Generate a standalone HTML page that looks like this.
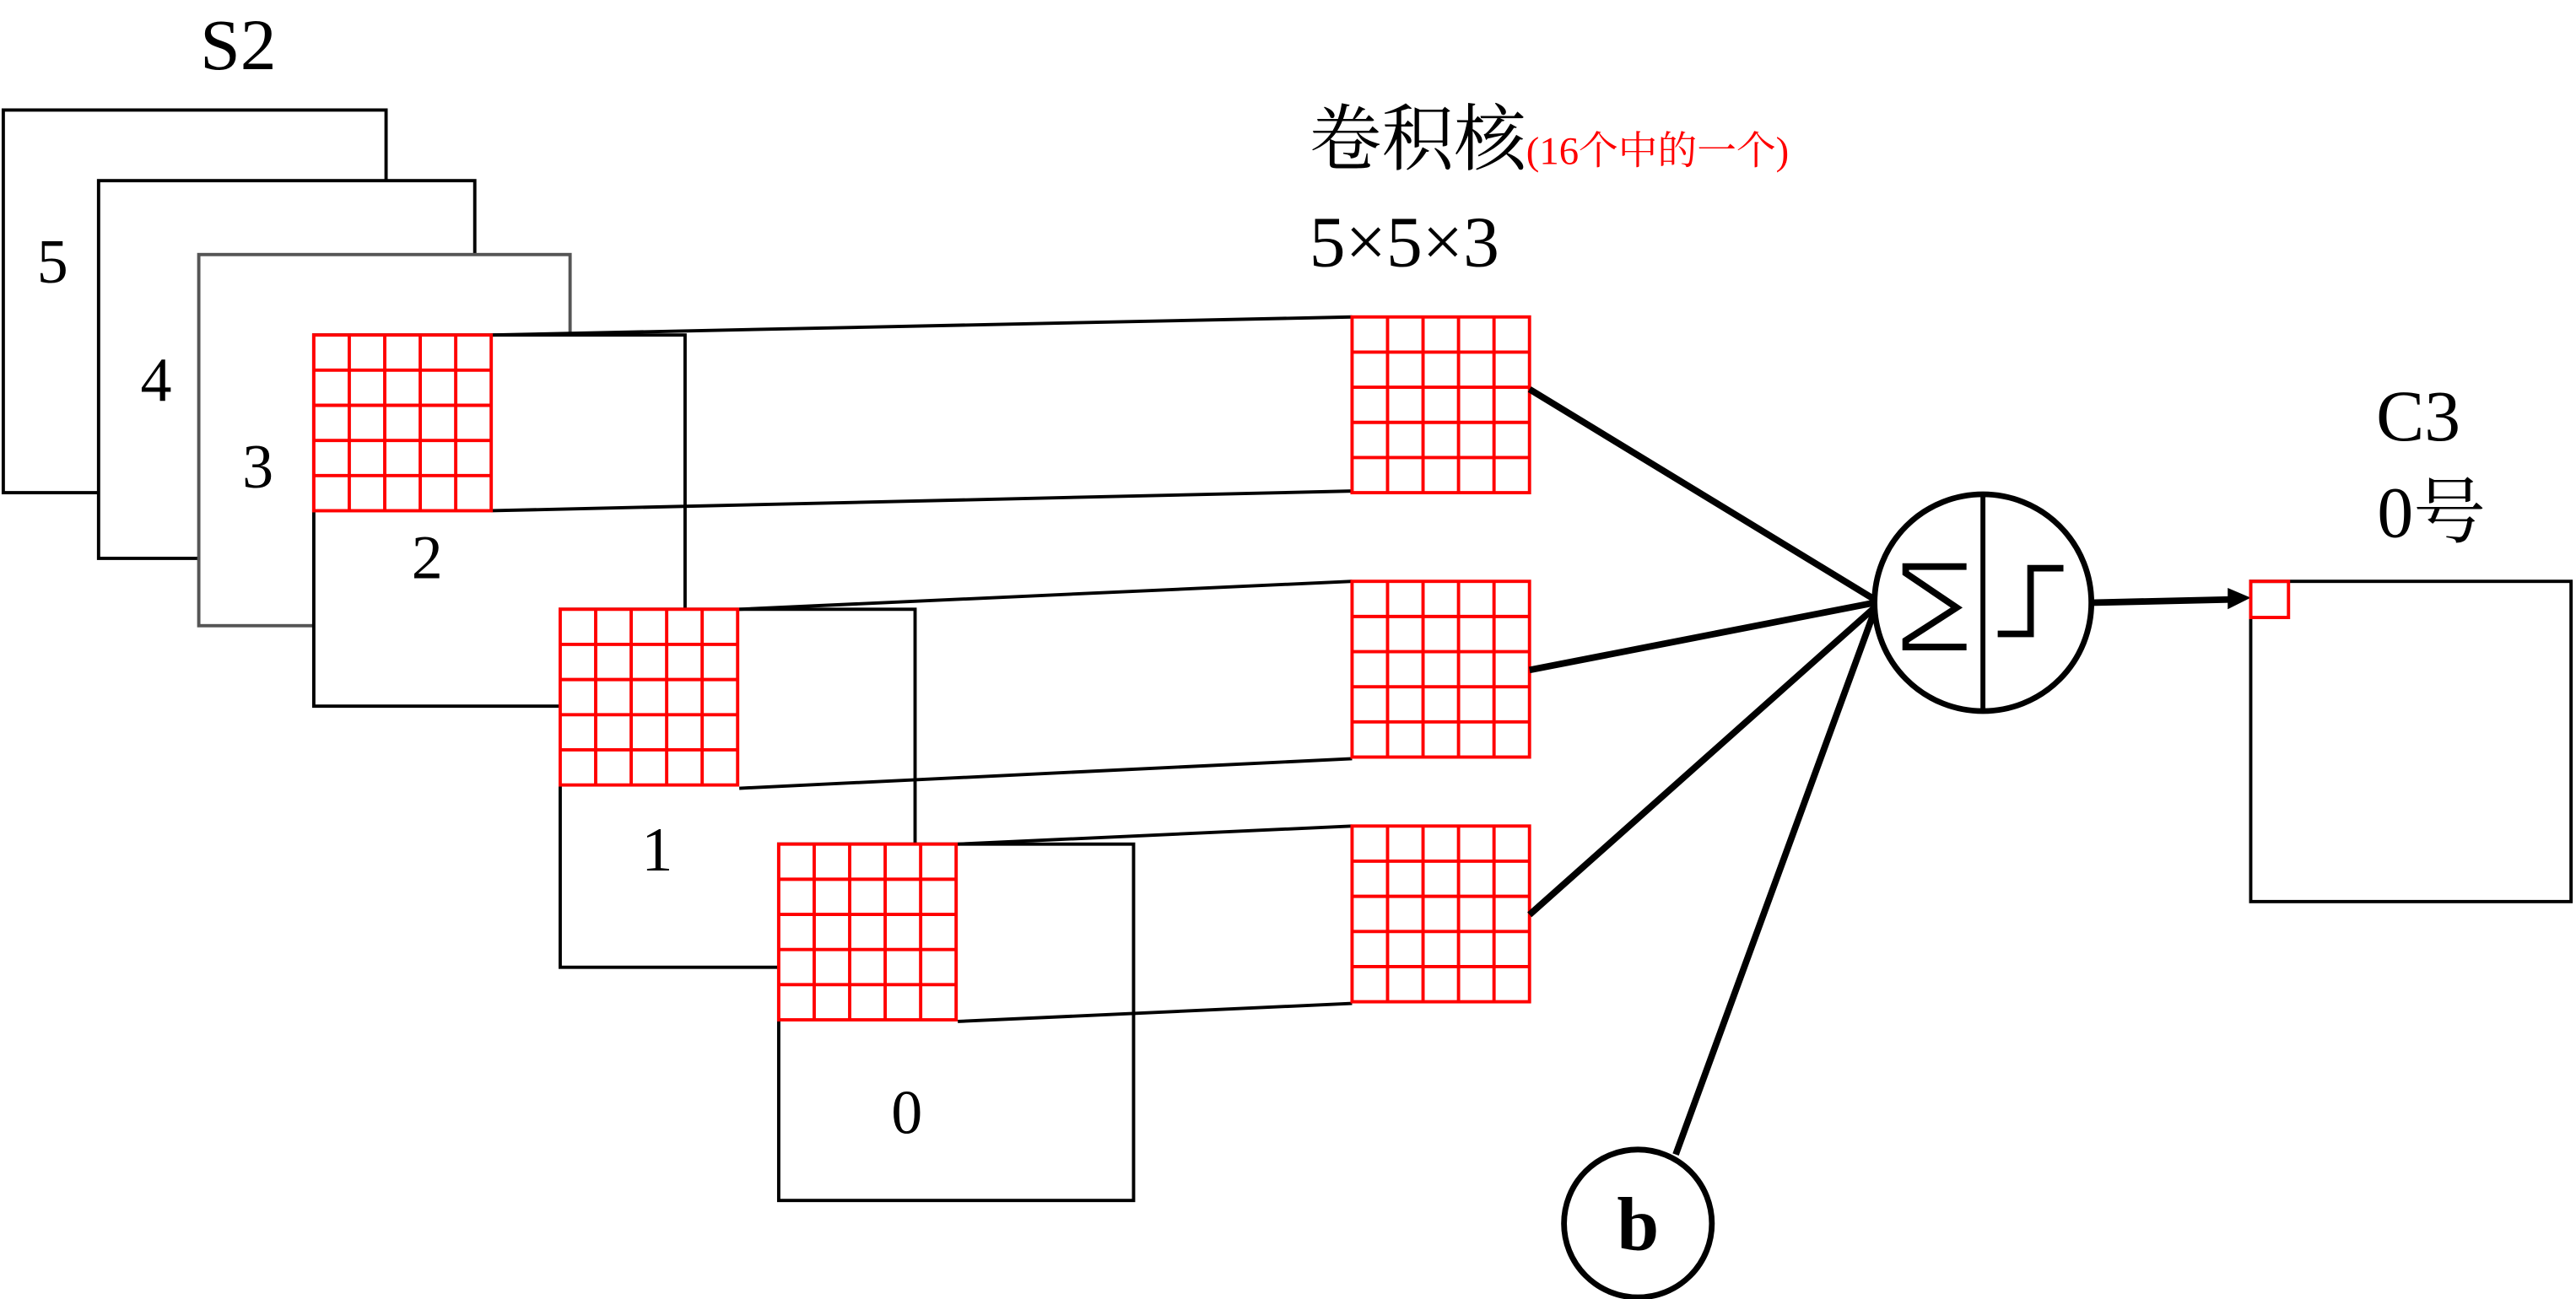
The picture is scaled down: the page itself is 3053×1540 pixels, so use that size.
<!DOCTYPE html>
<html><head><meta charset="utf-8"><style>html,body{margin:0;padding:0;background:#fff}svg{display:block}</style></head><body>
<svg width="3053" height="1540" viewBox="0 0 1568 791" preserveAspectRatio="none" xmlns="http://www.w3.org/2000/svg" font-family="Liberation Serif, Noto Serif CJK SC, serif">
<defs>
<g id="gr" stroke="red" stroke-width="2" fill="#fff"><rect width="108" height="107"/><path fill="none" d="M21.6 0V107M43.2 0V107M64.8 0V107M86.4 0V107M0 21.4H108M0 42.8H108M0 64.2H108M0 85.6H108"/></g>
</defs>
<g stroke="#000" stroke-width="2" fill="#fff">
<rect x="2" y="67" width="233" height="233"/>
<rect x="60" y="110" width="229" height="230"/>
<rect x="121" y="155" width="226" height="226" stroke="#555"/>
<rect x="191" y="204" width="226" height="226"/>
<rect x="341" y="371" width="216" height="218"/>
<rect x="474" y="514" width="216" height="217"/>
</g>
<g font-size="38" text-anchor="middle">
<text x="32" y="172">5</text><text x="95" y="244">4</text><text x="157" y="297">3</text>
<text x="260" y="352">2</text><text x="400" y="530">1</text><text x="552" y="690">0</text>
</g>
<g stroke="#000" stroke-width="2">
<line x1="299" y1="204" x2="823" y2="193"/><line x1="299" y1="311" x2="823" y2="299"/>
<line x1="450" y1="371" x2="823" y2="354"/><line x1="450" y1="480" x2="823" y2="462"/>
<line x1="583" y1="514" x2="823" y2="503"/><line x1="583" y1="622" x2="823" y2="611"/>
</g>
<use href="#gr" x="191" y="204"/><use href="#gr" x="341" y="371"/><use href="#gr" x="474" y="514"/>
<use href="#gr" x="823" y="193"/><use href="#gr" x="823" y="354"/><use href="#gr" x="823" y="503"/>
<g stroke="#000" stroke-width="4" fill="none">
<line x1="931" y1="237" x2="1141" y2="365"/><line x1="931" y1="408" x2="1141" y2="367"/>
<line x1="931" y1="557" x2="1141" y2="370"/><line x1="1020" y1="703" x2="1141" y2="372"/>
<circle cx="1207" cy="367" r="66" fill="#fff" stroke-width="3.5"/>
<line x1="1207" y1="301" x2="1207" y2="433" stroke-width="3"/>
<path d="M1197 345H1160V349L1191 370L1160 390V394H1197" stroke-width="4"/>
<path d="M1216 386H1236V346H1256" stroke-width="4"/>
<line x1="1273" y1="367" x2="1360" y2="365"/>
<circle cx="997" cy="745" r="45" fill="#fff" stroke-width="3.5"/>
</g>
<polygon points="1370,364 1356,358 1356,371" fill="#000"/>
<rect x="1370" y="354" width="195" height="195" fill="none" stroke="#000" stroke-width="2"/>
<rect x="1370" y="354" width="23" height="22" fill="none" stroke="red" stroke-width="2"/>
<text x="997" y="761" font-size="46" font-weight="bold" text-anchor="middle">b</text>
<text x="145" y="42" font-size="44" text-anchor="middle">S2</text>
<text x="797" y="100" font-size="44">卷积核<tspan font-size="24" fill="red">(16个中的一个)</tspan></text>
<text x="797" y="162" font-size="44">5×5×3</text>
<text x="1472" y="268" font-size="44" text-anchor="middle">C3</text>
<text x="1480" y="327" font-size="44" text-anchor="middle">0号</text>
</svg>
</body></html>
